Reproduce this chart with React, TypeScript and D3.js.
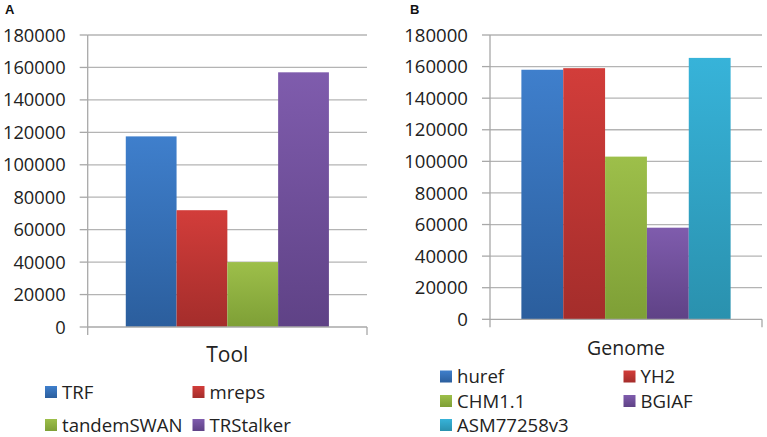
import React, { useEffect, useRef } from 'react';
import * as d3 from 'd3';

// panel A: tandem repeats found per tool
const toolNames = ['TRF', 'mreps', 'tandemSWAN', 'TRStalker'];
const toolCounts = [117500, 72000, 40000, 157000];

// panel B: tandem repeats found per genome
const genomeNames = ['huref', 'YH2', 'CHM1.1', 'BGIAF', 'ASM77258v3'];
const genomeCounts = [158000, 159000, 103000, 58000, 165500];

const yTicks = [0, 20000, 40000, 60000, 80000, 100000, 120000, 140000, 160000, 180000];

// excel-ish gradient pairs (top, bottom)
const palette = [
	['#3f7fcc', '#2b5e9d'],
	['#d23d3a', '#a42d2b'],
	['#9dbf4a', '#7e9f36'],
	['#7f5cad', '#5f4286'],
	['#37b3d9', '#2a91ae'],
];

const FONT = "'Open Sans', 'Liberation Sans', sans-serif";

export default function App() {
	const ref = useRef<SVGSVGElement>(null);

	useEffect(() => {
		const svg = d3.select(ref.current);
		svg.selectAll('*').remove();

		const defs = svg.append('defs');
		palette.forEach((c, i) => {
			const g = defs.append('linearGradient')
				.attr('id', 'grad' + i)
				.attr('x1', 0).attr('y1', 0).attr('x2', 0).attr('y2', 1);
			g.append('stop').attr('offset', '0%').attr('stop-color', c[0]);
			g.append('stop').attr('offset', '100%').attr('stop-color', c[1]);
		});

		const panels = [
			{
				label: 'A', labelX: 5, names: toolNames, values: toolCounts,
				left: 87.7, right: 367, top: 35, bottom: 327,
				tickSize: 18.3, title: 'Tool', titleY: 362, titleSize: 21,
				legendCols: [45, 192.5], legendRows: [392, 425], legendSize: 18.6,
			},
			{
				label: 'B', labelX: 410, names: genomeNames, values: genomeCounts,
				left: 490, right: 762, top: 35, bottom: 319.3,
				tickSize: 18.6, title: 'Genome', titleY: 355, titleSize: 19.5,
				legendCols: [440, 623.5], legendRows: [376.5, 401, 425], legendSize: 18.6,
			},
		];

		panels.forEach((p) => {
			const g = svg.append('g');

			const y = d3.scaleLinear().domain([0, 180000]).range([p.bottom, p.top]);
			const x = d3.scaleBand<string>()
				.domain(p.names)
				.range([p.left, p.right])
				.paddingInner(0)
				.paddingOuter(0.75);

			// panel letter
			g.append('text')
				.attr('x', p.labelX)
				.attr('y', 14)
				.style('font', "bold 13px 'Liberation Sans', Arial, sans-serif")
				.attr('fill', '#111')
				.text(p.label);

			// gridlines + tick marks + labels
			yTicks.forEach((t) => {
				if (t > 0) {
					g.append('line')
						.attr('x1', p.left).attr('x2', p.right)
						.attr('y1', y(t)).attr('y2', y(t))
						.attr('stroke', '#b4b4b4').attr('stroke-width', 1.3);
				}
				g.append('line')
					.attr('x1', p.left - 8).attr('x2', p.left)
					.attr('y1', y(t)).attr('y2', y(t))
					.attr('stroke', '#a8a8a8').attr('stroke-width', 1.3);
				g.append('text')
					.attr('x', p.left - 22)
					.attr('y', y(t))
					.attr('dy', '0.36em')
					.attr('text-anchor', 'end')
					.attr('fill', '#222')
					.style('font-family', FONT)
					.style('font-size', p.tickSize + 'px')
					.text(t);
			});

			// bars
			g.selectAll('rect.bar')
				.data(p.values)
				.enter()
				.append('rect')
				.attr('class', 'bar')
				.attr('x', (d, i) => x(p.names[i]) as number)
				.attr('width', x.bandwidth())
				.attr('y', (d) => y(d))
				.attr('height', (d) => y(0) - y(d))
				.attr('fill', (d, i) => 'url(#grad' + i + ')');

			// axes
			g.append('line')
				.attr('x1', p.left).attr('x2', p.left)
				.attr('y1', p.top).attr('y2', p.bottom)
				.attr('stroke', '#a8a8a8').attr('stroke-width', 1.3);
			g.append('line')
				.attr('x1', p.left).attr('x2', p.right)
				.attr('y1', p.bottom).attr('y2', p.bottom)
				.attr('stroke', '#a8a8a8').attr('stroke-width', 1.3);
			[p.left, p.right].forEach((xx) => {
				g.append('line')
					.attr('x1', xx).attr('x2', xx)
					.attr('y1', p.bottom).attr('y2', p.bottom + 8)
					.attr('stroke', '#a8a8a8').attr('stroke-width', 1.3);
			});

			// category title
			g.append('text')
				.attr('x', (p.left + p.right) / 2)
				.attr('y', p.titleY)
				.attr('text-anchor', 'middle')
				.attr('fill', '#222')
				.style('font-family', FONT)
				.style('font-size', p.titleSize + 'px')
				.text(p.title);

			// legend, row major
			p.names.forEach((name, i) => {
				const cx = p.legendCols[i % p.legendCols.length];
				const cy = p.legendRows[Math.floor(i / p.legendCols.length)];
				g.append('rect')
					.attr('x', cx).attr('y', cy - 6)
					.attr('width', 12).attr('height', 12)
					.attr('fill', 'url(#grad' + i + ')');
				g.append('text')
					.attr('x', cx + 17)
					.attr('y', cy)
					.attr('dy', '0.36em')
					.attr('fill', '#222')
					.style('font-family', FONT)
					.style('font-size', p.legendSize + 'px')
					.text(name);
			});
		});
	}, []);

	return (
		<div style={{ position: 'absolute', left: 0, top: 0, background: '#fff' }}>
			<svg ref={ref} width={767} height={437} style={{ display: 'block' }}></svg>
		</div>
	);
}
